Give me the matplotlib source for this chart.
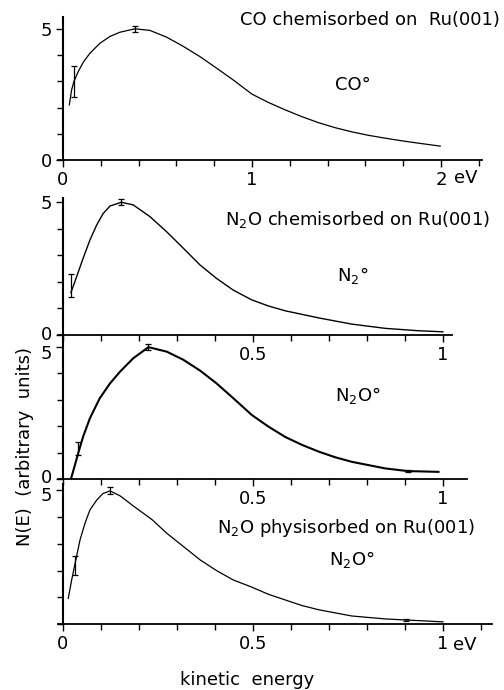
import numpy as np
import matplotlib.pyplot as plt
import matplotlib.transforms as mtransforms
from matplotlib.ticker import MultipleLocator

plt.rcParams['font.family'] = ['DejaVu Sans']
plt.rcParams['mathtext.default'] = 'regular'
plt.rcParams['font.size'] = 13

# CO chemisorbed on Ru(001) -> CO
co_E = [0.034, 0.046, 0.058, 0.081, 0.108, 0.143, 0.196, 0.249, 0.302, 0.381, 0.46, 0.549, 0.637,
        0.725, 0.813, 0.901, 1.0, 1.088, 1.176, 1.265, 1.353, 1.441, 1.53, 1.617, 1.706, 1.794,
        1.882, 1.996]
co_N = [2.10, 2.67, 2.99, 3.37, 3.73, 4.07, 4.45, 4.71, 4.87, 5.0, 4.94, 4.68, 4.33,
        3.94, 3.5, 3.05, 2.51, 2.19, 1.91, 1.65, 1.42, 1.23, 1.07, 0.94, 0.83, 0.73,
        0.64, 0.53]
co_errE = [0.058, 0.381]
co_errN = [3.0, 5.0]
co_err = [0.6, 0.12]

# N2O chemisorbed -> N2
n2_E = [0.021, 0.036, 0.053, 0.071, 0.089, 0.106, 0.124, 0.154, 0.185, 0.229, 0.273, 0.317,
        0.361, 0.404, 0.448, 0.497, 0.541, 0.585, 0.674, 0.76, 0.848, 0.936, 1.0]
n2_N = [1.59, 2.19, 2.88, 3.57, 4.14, 4.57, 4.85, 4.99, 4.89, 4.45, 3.88, 3.26,
        2.63, 2.13, 1.69, 1.32, 1.09, 0.91, 0.64, 0.41, 0.25, 0.16, 0.12]
n2_errE = [0.021, 0.154]
n2_errN = [1.85, 5.0]
n2_err = [0.43, 0.1]

# N2O chemisorbed -> N2O
n2oc_E = [0.021, 0.029, 0.040, 0.053, 0.071, 0.097, 0.124, 0.15, 0.185, 0.225, 0.273, 0.317,
          0.361, 0.404, 0.448, 0.497, 0.541, 0.585, 0.629, 0.674, 0.717, 0.76, 0.848, 0.907,
          0.988]
n2oc_N = [0.0, 0.40, 0.97, 1.60, 2.30, 3.06, 3.62, 4.06, 4.57, 4.99, 4.82, 4.51,
          4.10, 3.62, 3.06, 2.42, 1.98, 1.59, 1.29, 1.03, 0.82, 0.65, 0.40, 0.30,
          0.27]
n2oc_errE = [0.04, 0.225, 0.907]
n2oc_errN = [1.15, 5.0, 0.3]
n2oc_err = [0.25, 0.1, 0.05]

# N2O physisorbed -> N2O
n2op_E = [0.014, 0.023, 0.032, 0.045, 0.058, 0.071, 0.089, 0.105, 0.124, 0.15, 0.185, 0.235,
          0.273, 0.317, 0.361, 0.404, 0.448, 0.497, 0.541, 0.585, 0.629, 0.674, 0.76, 0.848,
          0.903, 1.0]
n2op_N = [0.96, 1.65, 2.27, 3.15, 3.77, 4.27, 4.64, 4.88, 4.98, 4.8, 4.42, 3.9,
          3.40, 2.90, 2.40, 2.0, 1.65, 1.38, 1.11, 0.90, 0.69, 0.53, 0.30, 0.19,
          0.15, 0.08]
n2op_errE = [0.032, 0.124, 0.903]
n2op_errN = [2.2, 5.0, 0.15]
n2op_err = [0.35, 0.12, 0.05]

W, H = 504, 690
fig = plt.figure(figsize=(W / 100, H / 100), dpi=100)


def px_axes(left, right, bottom, top):
    return fig.add_axes([left / W, 1 - bottom / H, (right - left) / W, (bottom - top) / H])


def style(ax, xmin, xmax, ymax, xmajor, xminor, xlabels, ylabels):
    ax.set_xlim(xmin, xmax)
    ax.set_ylim(0, ymax)
    for s in ['top', 'right']:
        ax.spines[s].set_visible(False)
    ax.spines['left'].set_position(('data', 0))
    ax.spines['left'].set_linewidth(1.5)
    ax.spines['bottom'].set_linewidth(1.3)
    ax.xaxis.set_major_locator(MultipleLocator(xmajor))
    ax.xaxis.set_minor_locator(MultipleLocator(xminor))
    ax.set_xticks(list(xlabels.keys()))
    ax.set_xticklabels(list(xlabels.values()))
    ax.set_yticks(list(ylabels.keys()))
    ax.set_yticklabels(list(ylabels.values()))
    ax.yaxis.set_minor_locator(MultipleLocator(1))
    ax.tick_params(which='both', direction='out', width=1.0, pad=3)
    ax.tick_params(which='major', length=5)
    ax.tick_params(which='minor', length=4)
    ax.patch.set_alpha(0)


def shift_ylabel(ax, value, dy_px):
    off = mtransforms.ScaledTranslation(0, dy_px / 100, fig.dpi_scale_trans)
    for tick in ax.yaxis.get_major_ticks():
        if tick.get_loc() == value:
            tick.label1.set_transform(tick.label1.get_transform() + off)


kw = dict(fmt='none', ecolor='black', elinewidth=0.9, capsize=2, capthick=0.9)

ax1 = px_axes(58, 482, 160, 17)
ax1.plot(co_E, co_N, color='black', lw=0.9)
ax1.errorbar(co_errE, co_errN, yerr=co_err, **kw)
style(ax1, -0.026, 2.217, 5.45, 1, 0.2, {0: '0', 1: '1', 2: '2'}, {0: '0', 5: '5'})

ax2 = px_axes(58, 452, 335, 198)
ax2.plot(n2_E, n2_N, color='black', lw=1.0)
ax2.errorbar(n2_errE, n2_errN, yerr=n2_err, **kw)
style(ax2, -0.013, 1.024, 5.15, 0.5, 0.1, {0.5: '0.5', 1: '1'}, {0: '0', 5: '5'})
shift_ylabel(ax2, 0, 2)

ax3 = px_axes(58, 467, 479, 335)
ax3.plot(n2oc_E, n2oc_N, color='black', lw=1.5)
ax3.errorbar(n2oc_errE, n2oc_errN, yerr=n2oc_err, **kw)
style(ax3, -0.013, 1.063, 5.45, 0.5, 0.1, {0.5: '0.5', 1: '1'}, {0: '0', 5: '5'})
shift_ylabel(ax3, 5, -5)
shift_ylabel(ax3, 0, 3)

ax4 = px_axes(58, 492, 624, 484)
ax4.plot(n2op_E, n2op_N, color='black', lw=0.9)
ax4.errorbar(n2op_errE, n2op_errN, yerr=n2op_err, **kw)
style(ax4, -0.013, 1.129, 5.24, 0.5, 0.1, {0: '0', 0.5: '0.5', 1: '1'}, {5: '5'})
shift_ylabel(ax4, 5, -4)


def ftext(x, y, s, **k):
    fig.text(x / W, 1 - y / H, s, va='center', **k)


ftext(500, 20, 'CO chemisorbed on  Ru(001)', ha='right')
ftext(335, 85, 'CO°', ha='left')
ftext(490, 220, 'N$_2$O chemisorbed on Ru(001)', ha='right')
ftext(337, 275, 'N$_2$°', ha='left')
ftext(335, 395, 'N$_2$O°', ha='left')
ftext(475, 528, 'N$_2$O physisorbed on Ru(001)', ha='right')
ftext(329, 560, 'N$_2$O°', ha='left')
ftext(454, 178, 'eV', ha='left')
ftext(453, 645, 'eV', ha='left')
ftext(247, 680, 'kinetic  energy', ha='center')
fig.text(25 / W, 1 - 446 / H, 'N(E)  (arbitrary  units)', rotation=90, ha='center', va='center')

fig.savefig('out.png', dpi=100)
